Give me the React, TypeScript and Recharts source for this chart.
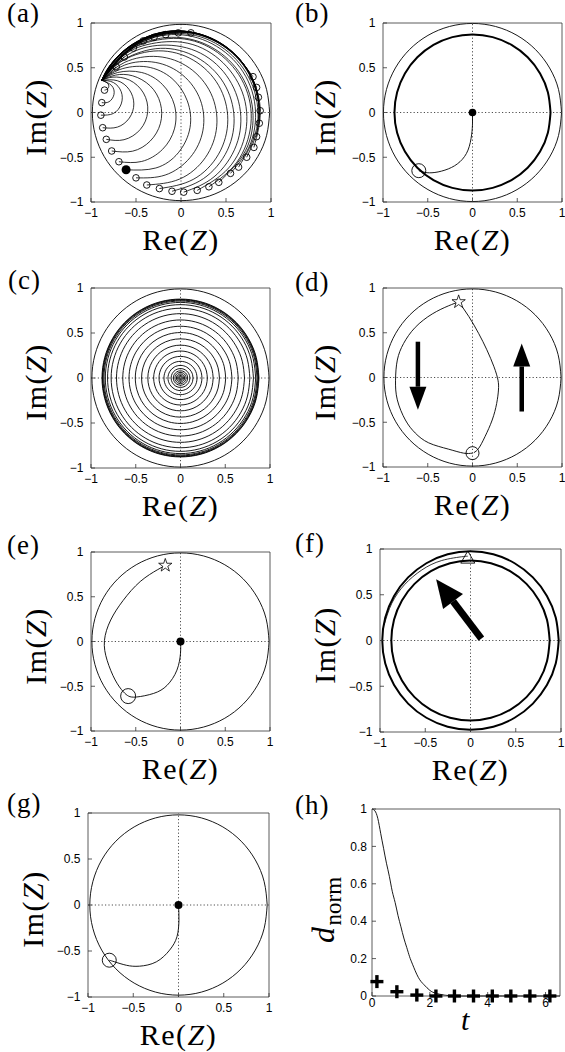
import React from "react";
import {
  ComposedChart,
  Line,
  Scatter,
  XAxis,
  YAxis,
  ReferenceLine,
  Symbols,
} from "recharts";

type XY = [number, number];

// shared
const zTicks = [-1, -0.5, 0, 0.5, 1];
const unitCircle: XY[] = [
  [1, 0], [0.9659, 0.2588], [0.866, 0.5], [0.7071, 0.7071], [0.5, 0.866], [0.2588, 0.9659],
  [0, 1], [-0.2588, 0.9659], [-0.5, 0.866], [-0.7071, 0.7071], [-0.866, 0.5], [-0.9659, 0.2588],
  [-1, 0], [-0.9659, -0.2588], [-0.866, -0.5], [-0.7071, -0.7071], [-0.5, -0.866], [-0.2588, -0.9659],
  [0, -1], [0.2588, -0.9659], [0.5, -0.866], [0.7071, -0.7071], [0.866, -0.5], [0.9659, -0.2588],
  [1, 0],
];

// (a) trajectories converging to one point on the left
const rimA = 0.985;
const arcsA: XY[][] = [
  [[-0.85, 0.25], [-0.81, 0.27], [-0.81, 0.32], [-0.88, 0.36]],
  [[-0.88, 0.11], [-0.8, 0.12], [-0.745, 0.2], [-0.77, 0.3], [-0.88, 0.36]],
  [[-0.89, -0.03], [-0.75, -0.01], [-0.664, 0.096], [-0.664, 0.232], [-0.751, 0.335], [-0.88, 0.36]],
  [[-0.87, -0.17], [-0.706, -0.163], [-0.574, -0.062], [-0.524, 0.096], [-0.574, 0.254], [-0.706, 0.355], [-0.88, 0.36]],
  [[-0.83, -0.3], [-0.633, -0.304], [-0.452, -0.189], [-0.37, 0.009], [-0.417, 0.218], [-0.574, 0.363], [-0.756, 0.395], [-0.88, 0.36]],
  [[-0.77, -0.43], [-0.537, -0.432], [-0.342, -0.319], [-0.229, -0.124], [-0.229, 0.102], [-0.342, 0.297], [-0.537, 0.41], [-0.726, 0.418], [-0.88, 0.36]],
  [[-0.69, -0.55], [-0.437, -0.547], [-0.206, -0.413], [-0.073, -0.183], [-0.073, 0.083], [-0.206, 0.313], [-0.437, 0.447], [-0.703, 0.447], [-0.88, 0.36]],
  [[-0.61, -0.64], [-0.28, -0.62], [-0.03, -0.45], [0.1, -0.17], [0.07, 0.13], [-0.1, 0.38], [-0.38, 0.51], [-0.68, 0.48], [-0.88, 0.36]],
  [[-0.5, -0.73], [-0.176, -0.699], [0.101, -0.504], [0.244, -0.198], [0.215, 0.14], [0.02, 0.417], [-0.286, 0.56], [-0.624, 0.531], [-0.88, 0.36]],
  [[-0.38, -0.81], [-0.016, -0.744], [0.27, -0.505], [0.397, -0.155], [0.333, 0.212], [0.093, 0.498], [-0.257, 0.625], [-0.624, 0.561], [-0.88, 0.36]],
  [[-0.24, -0.85], [0.135, -0.748], [0.417, -0.466], [0.52, -0.081], [0.417, 0.304], [0.135, 0.586], [-0.25, 0.689], [-0.635, 0.586], [-0.88, 0.36]],
  [[-0.1, -0.88], [0.249, -0.739], [0.515, -0.422], [0.587, -0.014], [0.445, 0.375], [0.128, 0.641], [-0.28, 0.713], [-0.669, 0.571], [-0.88, 0.36]],
  [[0.03, -0.89], [0.367, -0.719], [0.615, -0.365], [0.652, 0.066], [0.47, 0.458], [0.116, 0.706], [-0.315, 0.743], [-0.649, 0.605], [-0.88, 0.36]],
  [[0.18, -0.87], [0.53, -0.619], [0.719, -0.215], [0.68, 0.23], [0.424, 0.595], [0.02, 0.784], [-0.425, 0.745], [-0.684, 0.595], [-0.88, 0.36]],
  [[0.31, -0.83], [0.621, -0.555], [0.777, -0.127], [0.698, 0.322], [0.405, 0.671], [-0.023, 0.827], [-0.472, 0.748], [-0.722, 0.572], [-0.88, 0.36]],
  [[0.42, -0.78], [0.717, -0.426], [0.797, 0.028], [0.639, 0.46], [0.286, 0.757], [-0.168, 0.837], [-0.6, 0.679], [-0.88, 0.36]],
  [[0.55, -0.68], [0.776, -0.338], [0.816, 0.126], [0.619, 0.549], [0.238, 0.816], [-0.226, 0.856], [-0.649, 0.659], [-0.88, 0.36]],
  [[0.64, -0.61], [0.84, -0.181], [0.799, 0.288], [0.529, 0.673], [0.103, 0.872], [-0.366, 0.831], [-0.698, 0.62], [-0.88, 0.36]],
  [[0.73, -0.5], [0.867, -0.094], [0.784, 0.373], [0.48, 0.736], [0.035, 0.898], [-0.432, 0.815], [-0.725, 0.598], [-0.88, 0.36]],
  [[0.81, -0.39], [0.88, 0.055], [0.717, 0.504], [0.35, 0.811], [-0.121, 0.894], [-0.57, 0.731], [-0.797, 0.504], [-0.88, 0.36]],
  [[0.84, -0.27], [0.847, 0.228], [0.609, 0.639], [0.198, 0.877], [-0.278, 0.877], [-0.689, 0.639], [-0.88, 0.36]],
  [[0.87, -0.12], [0.822, 0.307], [0.549, 0.695], [0.119, 0.896], [-0.354, 0.855], [-0.742, 0.582], [-0.88, 0.36]],
  [[0.88, 0.02], [0.758, 0.444], [0.421, 0.781], [-0.04, 0.904], [-0.501, 0.781], [-0.776, 0.537], [-0.88, 0.36]],
  [[0.86, 0.17], [0.665, 0.581], [0.275, 0.855], [-0.2, 0.896], [-0.631, 0.695], [-0.88, 0.36]],
  [[0.84, 0.28], [0.61, 0.64], [0.198, 0.879], [-0.278, 0.879], [-0.69, 0.64], [-0.88, 0.36]],
  [[0.8, 0.4], [0.488, 0.744], [0.04, 0.907], [-0.429, 0.824], [-0.745, 0.581], [-0.88, 0.36]],
  [[0.11, 0.89], [-0.3, 0.86], [-0.65, 0.65], [-0.88, 0.36]],
  [[-0.03, 0.89], [-0.38, 0.83], [-0.68, 0.61], [-0.88, 0.36]],
  [[-0.17, 0.87], [-0.45, 0.79], [-0.7, 0.58], [-0.88, 0.36]],
  [[-0.3, 0.84], [-0.55, 0.72], [-0.75, 0.54], [-0.88, 0.36]],
  [[-0.42, 0.8], [-0.63, 0.65], [-0.88, 0.36]],
  [[-0.53, 0.72], [-0.72, 0.56], [-0.88, 0.36]],
  [[-0.63, 0.62], [-0.78, 0.48], [-0.88, 0.36]],
  [[-0.72, 0.51], [-0.88, 0.36]],
];
const startsA: XY[] = [
  [-0.85, 0.25], [-0.88, 0.11], [-0.89, -0.03], [-0.87, -0.17], [-0.83, -0.3], [-0.77, -0.43],
  [-0.69, -0.55], [-0.5, -0.73], [-0.38, -0.81], [-0.24, -0.85], [-0.1, -0.88], [0.03, -0.89],
  [0.18, -0.87], [0.31, -0.83], [0.42, -0.78], [0.55, -0.68], [0.64, -0.61], [0.73, -0.5],
  [0.81, -0.39], [0.84, -0.27], [0.87, -0.12], [0.88, 0.02], [0.86, 0.17], [0.84, 0.28],
  [0.8, 0.4], [0.11, 0.89], [-0.03, 0.89], [-0.17, 0.87], [-0.3, 0.84], [-0.42, 0.8],
  [-0.53, 0.72], [-0.63, 0.62], [-0.72, 0.51],
];
const markedA: XY[] = [[-0.61, -0.64]];

// (b)
const rimB = 0.995;
const cycleB = 0.872;
const pathB: XY[] = [
  [0, 0], [0, -0.12], [-0.01, -0.25], [-0.05, -0.42], [-0.14, -0.55], [-0.27, -0.63],
  [-0.42, -0.67], [-0.53, -0.67], [-0.6, -0.65],
];
const originB: XY[] = [[0, 0]];
const landB: XY[] = [[-0.6, -0.65]];

// (c)
const rimC = 0.99;
const ringsC = [
  0.012, 0.022, 0.033, 0.046, 0.062, 0.08, 0.105, 0.14, 0.185, 0.24, 0.3, 0.365, 0.435,
  0.505, 0.575, 0.645, 0.715, 0.775, 0.815, 0.84, 0.855, 0.865, 0.872, 0.877,
];

// (d)
const rimD = 0.99;
const leftD: XY[] = [
  [0, -0.845], [-0.1, -0.845], [-0.27, -0.8], [-0.49, -0.73], [-0.64, -0.62], [-0.75, -0.475],
  [-0.84, -0.25], [-0.86, -0.03], [-0.84, 0.195], [-0.77, 0.38], [-0.64, 0.56], [-0.45, 0.71],
  [-0.27, 0.8], [-0.155, 0.845],
];
const rightD: XY[] = [
  [-0.155, 0.845], [-0.04, 0.68], [0.07, 0.49], [0.16, 0.31], [0.24, 0.12], [0.285, -0.03],
  [0.29, -0.14], [0.27, -0.29], [0.22, -0.475], [0.14, -0.66], [0.07, -0.79], [0.015, -0.84],
];
const starD: XY[] = [[-0.155, 0.845]];
const landD: XY[] = [[0, -0.845]];
const arrowsD: [XY, XY][] = [
  [[-0.61, 0.4], [-0.61, -0.36]],
  [[0.55, -0.38], [0.55, 0.38]],
];

// (e)
const rimE = 0.99;
const pathE: XY[] = [
  [-0.17, 0.85], [-0.26, 0.8], [-0.45, 0.67], [-0.64, 0.46], [-0.78, 0.24], [-0.85, 0.01],
  [-0.82, -0.21], [-0.73, -0.43], [-0.64, -0.56], [-0.58, -0.61], [-0.49, -0.62], [-0.3, -0.58],
  [-0.15, -0.49], [-0.04, -0.32], [0, -0.13], [0, 0],
];
const starE: XY[] = [[-0.17, 0.85]];
const landE: XY[] = [[-0.585, -0.61]];
const originE: XY[] = [[0, 0]];

// (f)
const rimF = 0.975;
const cycleF = 0.875;
const driftF: XY[] = [
  [-0.955, 0.168], [-0.87, 0.406], [-0.728, 0.611], [-0.539, 0.77], [-0.318, 0.874], [-0.08, 0.917], [-0.03, 0.92],
];
const triF: XY[] = [[-0.03, 0.89]];
const arrowF: [XY, XY] = [[0.12, 0.02], [-0.38, 0.67]];

// (g)
const rimG = 0.98;
const pathG: XY[] = [
  [0, 0], [0.005, -0.164], [-0.017, -0.345], [-0.098, -0.49], [-0.245, -0.618], [-0.43, -0.665],
  [-0.576, -0.655], [-0.705, -0.618], [-0.765, -0.6],
];
const originG: XY[] = [[0, 0]];
const landG: XY[] = [[-0.765, -0.6]];

// (h)
const tH = [0, 0.1, 0.2, 0.3, 0.4, 0.5, 0.6, 0.7, 0.8, 0.9, 1.0, 1.1, 1.2, 1.3, 1.4, 1.6, 1.8, 2.0, 2.2, 2.5, 3.0, 4, 5, 6, 6.5];
const dH = [1, 0.99, 0.95, 0.87, 0.79, 0.71, 0.64, 0.56, 0.5, 0.43, 0.37, 0.31, 0.26, 0.21, 0.17, 0.1, 0.06, 0.03, 0.015, 0.005, 0, 0, 0, 0, 0];
const tPlus = [0.17, 0.86, 1.55, 2.21, 2.85, 3.51, 4.16, 4.8, 5.46, 6.15];
const dPlus = [0.077, 0.023, 0.005, 0, 0, 0, 0, 0, 0, 0];
const tTicks = [0, 2, 4, 6];
const dTicks = [0, 0.2, 0.4, 0.6, 0.8, 1];

const pts = (a: XY[]) => a.map(([x, y]) => ({ x, y }));
const circle = (r: number) => unitCircle.map(([c, s]) => ({ x: r * c, y: r * s }));

const curve = (key: string, data: { x: number; y: number }[], w = 0.8) => (
  <Line
    key={key}
    data={data}
    dataKey="y"
    type="natural"
    stroke="#000"
    strokeWidth={w}
    dot={false}
    activeDot={false}
    legendType="none"
    isAnimationActive={false}
  />
);

const marks = (key: string, data: XY[], shape: any) => (
  <Scatter key={key} data={pts(data)} dataKey="y" shape={shape} isAnimationActive={false} legendType="none" />
);

const openCircle = (r: number) => (p: any) => (
  <circle cx={p.cx} cy={p.cy} r={r} fill="none" stroke="#000" strokeWidth={0.9} />
);
const filled = (r: number) => (p: any) => <circle cx={p.cx} cy={p.cy} r={r} fill="#000" />;
const star = (p: any) => (
  <Symbols cx={p.cx} cy={p.cy} type="star" size={55} fill="#fff" stroke="#000" strokeWidth={0.8} />
);
const tri = (p: any) => (
  <Symbols cx={p.cx} cy={p.cy} type="triangle" size={85} fill="none" stroke="#000" strokeWidth={0.9} />
);
const plus = (p: any) => (
  <g stroke="#000" strokeWidth={3.4}>
    <line x1={p.cx - 6.5} y1={p.cy} x2={p.cx + 6.5} y2={p.cy} />
    <line x1={p.cx} y1={p.cy - 6.5} x2={p.cx} y2={p.cy + 6.5} />
  </g>
);

const arrowShape = (w: number, hl: number, hw: number) => (p: any) => {
  const { x1, y1, x2, y2 } = p;
  const len = Math.hypot(x2 - x1, y2 - y1) || 1;
  const ux = (x2 - x1) / len;
  const uy = (y2 - y1) / len;
  const bx = x2 - ux * hl;
  const by = y2 - uy * hl;
  const nx = (-uy * hw) / 2;
  const ny = (ux * hw) / 2;
  return (
    <g>
      <line x1={x1} y1={y1} x2={bx} y2={by} stroke="#000" strokeWidth={w} />
      <polygon points={`${x2},${y2} ${bx + nx},${by + ny} ${bx - nx},${by - ny}`} fill="#000" />
    </g>
  );
};

const arrow = (key: string, seg: [XY, XY], shape: any) => (
  <ReferenceLine
    key={key}
    segment={[{ x: seg[0][0], y: seg[0][1] }, { x: seg[1][0], y: seg[1][1] }]}
    shape={shape}
  />
);

const frame = { stroke: "#333", strokeWidth: 0.8 };
const tickLn = { stroke: "#333", strokeWidth: 0.8 };
const tickFont = { fontSize: 12, fill: "#000", fontFamily: "'Liberation Sans', Arial, sans-serif" };
const fmt = (v: number) => (v < 0 ? `\u2212${-v}` : `${v}`);
const serif = "'Liberation Serif', 'Times New Roman', serif";

const ReZ = (
  <>
    Re(<i>Z</i>)
  </>
);
const ImZ = (
  <>
    Im(<i>Z</i>)
  </>
);

function Panel(props: any) {
  const {
    box, tag, tagAt, children,
    xTicks = zTicks, yTicks = zTicks, xDomain = [-1, 1], yDomain = [-1, 1],
    zero = true, gapX = 10.5, gapY = 11.5,
    xTitle = ReZ, yTitle = ImZ, xTitleTop, yTitleX, yTitleY,
  } = props;
  const [L, T, W, H] = box;
  const xt = xTitleTop ?? T + H + 23;
  const yx = yTitleX ?? L - 55;
  const yy = yTitleY ?? T + H / 2 + 4;
  return (
    <>
      <div style={{ position: "absolute", left: L - 50, top: T - 10 }}>
        <ComposedChart width={W + 62} height={H + 40} margin={{ top: 10, right: 12, bottom: 0, left: 0 }}>
          <XAxis type="number" dataKey="x" domain={xDomain} ticks={xTicks} interval={0} height={30}
            tickSize={-4} tickMargin={gapX} tickFormatter={fmt} tick={tickFont} axisLine={frame} tickLine={tickLn} />
          <XAxis xAxisId="top" orientation="top" mirror type="number" dataKey="x" domain={xDomain} ticks={xTicks}
            interval={0} tick={false} tickSize={4} axisLine={frame} tickLine={tickLn} />
          <YAxis type="number" dataKey="y" domain={yDomain} ticks={yTicks} interval={0} width={50}
            tickSize={-4} tickMargin={gapY} tickFormatter={fmt} tick={tickFont} axisLine={frame} tickLine={tickLn} />
          <YAxis yAxisId="right" orientation="right" mirror type="number" dataKey="y" domain={yDomain} ticks={yTicks}
            interval={0} tick={false} tickSize={4} axisLine={frame} tickLine={tickLn} />
          {zero && <ReferenceLine x={0} stroke="#222" strokeWidth={0.8} strokeDasharray="1.2 2.2" />}
          {zero && <ReferenceLine y={0} stroke="#222" strokeWidth={0.8} strokeDasharray="1.2 2.2" />}
          {children}
        </ComposedChart>
      </div>
      <div style={{ position: "absolute", left: tagAt[0], top: Math.max(0, tagAt[1] - 3), fontFamily: serif, fontSize: 27, lineHeight: "27px", letterSpacing: 1 }}>
        {tag}
      </div>
      <div style={{ position: "absolute", left: L + W / 2 - 70, width: 140, top: xt, textAlign: "center", fontFamily: serif, fontSize: 30, lineHeight: "30px", letterSpacing: 1.5 }}>
        {xTitle}
      </div>
      <div style={{ position: "absolute", left: yx - 60, top: yy - 17, width: 120, height: 34, textAlign: "center", fontFamily: serif, fontSize: 30, lineHeight: "34px", letterSpacing: 1.5, transform: "rotate(-90deg)", whiteSpace: "nowrap" }}>
        {yTitle}
      </div>
    </>
  );
}

export default function App() {
  const curveH = tH.map((t, i) => ({ x: t, y: dH[i] }));
  const plusH: XY[] = tPlus.map((t, i) => [t, dPlus[i]]);
  return (
    <div style={{ position: "absolute", left: 0, top: 0, width: 565, height: 1052, background: "#fff" }}>
      <Panel box={[91, 23, 180, 179]} tag="(a)" tagAt={[7, 3]}>
        {curve("rim", circle(rimA), 0.9)}
        {arcsA.map((a, i) => curve(`arc${i}`, pts(a), 0.8))}
        {marks("starts", startsA, openCircle(3.3))}
        {marks("marked", markedA, filled(4.5))}
      </Panel>

      <Panel box={[383, 23, 179, 179]} tag="(b)" tagAt={[295, 3]} yTitleX={325}>
        {curve("rim", circle(rimB), 0.9)}
        {curve("cycle", circle(cycleB), 2)}
        {curve("path", pts(pathB), 0.9)}
        {marks("origin", originB, filled(3.8))}
        {marks("land", landB, openCircle(7))}
      </Panel>

      <Panel box={[91, 288, 179, 180]} tag="(c)" tagAt={[8, 270]}>
        {curve("rim", circle(rimC), 0.9)}
        {ringsC.map((r, i) => curve(`ring${i}`, circle(r), 0.9))}
      </Panel>

      <Panel box={[383, 288, 179, 179]} tag="(d)" tagAt={[295, 272]} yTitleX={325}>
        {curve("rim", circle(rimD), 0.9)}
        {curve("left", pts(leftD), 0.9)}
        {curve("right", pts(rightD), 0.9)}
        {arrowsD.map((s, i) => arrow(`ar${i}`, s, arrowShape(4.5, 23, 17)))}
        {marks("star", starD, star)}
        {marks("land", landD, openCircle(6.5))}
      </Panel>

      <Panel box={[91, 552, 179, 179]} tag="(e)" tagAt={[7, 535]}>
        {curve("rim", circle(rimE), 0.9)}
        {curve("path", pts(pathE), 0.9)}
        {marks("star", starE, star)}
        {marks("land", landE, openCircle(7.5))}
        {marks("origin", originE, filled(4))}
      </Panel>

      <Panel box={[380, 549, 181, 183]} tag="(f)" tagAt={[295, 533]} yTitleX={325}>
        {curve("rim", circle(rimF), 2)}
        {curve("cycle", circle(cycleF), 2)}
        {curve("drift", pts(driftF), 0.8)}
        {arrow("arF", arrowF, arrowShape(7, 28, 25))}
        {marks("tri", triF, tri)}
      </Panel>

      <Panel box={[88, 813, 181, 184]} tag="(g)" tagAt={[7, 793]}>
        {curve("rim", circle(rimG), 0.9)}
        {curve("path", pts(pathG), 0.9)}
        {marks("origin", originG, filled(4))}
        {marks("land", landG, openCircle(7))}
      </Panel>

      <Panel
        box={[372, 809, 188, 187]}
        tag="(h)"
        tagAt={[295, 795]}
        xTicks={tTicks}
        yTicks={dTicks}
        xDomain={[0, 6.5]}
        yDomain={[0, 1]}
        zero={false}
        gapX={6}
        gapY={9}
        xTitle={<i>t</i>}
        xTitleTop={1005}
        yTitle={
          <>
            <i style={{ fontSize: 32 }}>d</i>
            <span style={{ fontSize: 23, position: "relative", top: 7, letterSpacing: 0 }}>norm</span>
          </>
        }
        yTitleX={323}
        yTitleY={910}
      >
        {curve("d", curveH, 0.9)}
        {marks("plus", plusH, plus)}
      </Panel>
    </div>
  );
}
